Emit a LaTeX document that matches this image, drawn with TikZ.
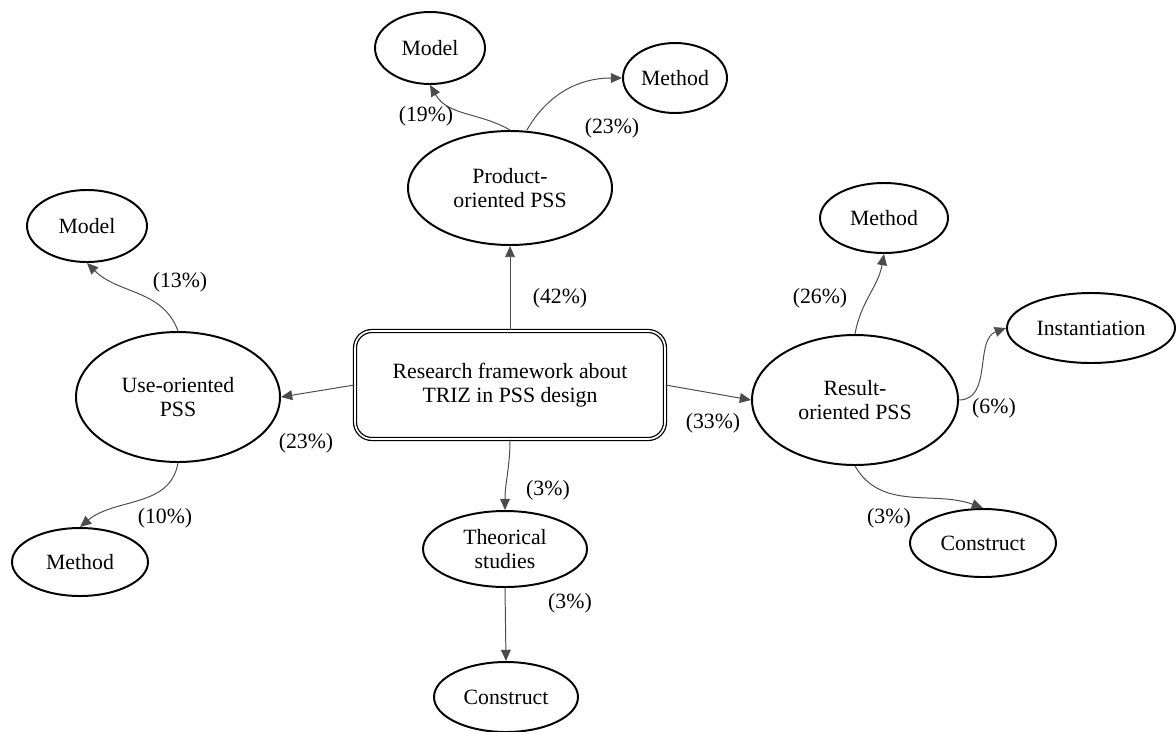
\documentclass[tikz,border=0pt]{standalone}
\usepackage{fontspec}
\setmainfont{Liberation Serif}
\usetikzlibrary{shapes.geometric,arrows.meta}
\begin{document}
\begin{tikzpicture}[x=0.025cm,y=-0.025cm,
  every node/.style={font=\fontsize{15.5}{17}\selectfont},
  oval/.style={ellipse,draw=black,line width=1.4pt,inner sep=0pt,align=center},
  link/.style={draw=black!70,line width=0.7pt,-{Triangle[length=8pt,width=7pt]}},
  pct/.style={inner sep=1pt}]
\useasboundingbox (0,0) rectangle (1176,731);

% central box
\node[draw=black,double=white,double distance=1.2pt,line width=0.9pt,rounded corners=12pt,
      minimum width=310*0.025cm,minimum height=108*0.025cm,align=center]
  (core) at (510,385) {Research framework about\\TRIZ in PSS design};

% first-level ellipses
\node[oval,minimum width=204*0.025cm,minimum height=114*0.025cm] (prod) at (510,188) {Product-\\oriented PSS};
\node[oval,minimum width=204*0.025cm,minimum height=130*0.025cm] (use) at (178,397) {Use-oriented\\PSS};
\node[oval,minimum width=206*0.025cm,minimum height=130*0.025cm] (res) at (855,400) {Result-\\oriented PSS};
\node[oval,minimum width=164*0.025cm,minimum height=76*0.025cm] (theo) at (505,549) {Theorical\\studies};

% second-level ellipses
\node[oval,minimum width=110*0.025cm,minimum height=72*0.025cm] (pmodel) at (430,48) {Model};
\node[oval,minimum width=104*0.025cm,minimum height=70*0.025cm] (pmethod) at (675,78) {Method};
\node[oval,minimum width=120*0.025cm,minimum height=72*0.025cm] (umodel) at (87,226) {Model};
\node[oval,minimum width=136*0.025cm,minimum height=68*0.025cm] (umethod) at (80,562) {Method};
\node[oval,minimum width=128*0.025cm,minimum height=70*0.025cm] (rmethod) at (884,218) {Method};
\node[oval,minimum width=168*0.025cm,minimum height=70*0.025cm] (rinst) at (1091,328) {Instantiation};
\node[oval,minimum width=146*0.025cm,minimum height=68*0.025cm] (rcons) at (983,543) {Construct};
\node[oval,minimum width=144*0.025cm,minimum height=70*0.025cm] (tcons) at (506,697) {Construct};

% connectors from the central box
\draw[link] (core.north) -- (prod.south);
\draw[link] (core.west) -- (use.east);
\draw[link] (core.east) -- (res.west);
\draw[link] (core.south) to[out=-90,in=90] (theo.north);

% connectors to the second level
\draw[link] (prod.north) to[out=150,in=-60] (pmodel.south);
\draw[link] ([xshift=12pt]prod.north) to[out=60,in=180] (pmethod.west);
\draw[link] (use.north) to[out=110,in=-45] (umodel.south);
\draw[link] (use.south) to[out=-100,in=40] (umethod.north);
\draw[link] (res.north) to[out=80,in=-100] (rmethod.south);
\draw[link] (res.east) to[out=0,in=200] (rinst.west);
\draw[link] (res.south) to[out=-60,in=160] (rcons.north);
\draw[link] (theo.south) -- (tcons.north);

% shares
\node[pct] (l1) at (560,298) {(42\%)};
\node[pct] (l2) at (306,443) {(23\%)};
\node[pct] (l3) at (713,423) {(33\%)};
\node[pct] (l4) at (548,490) {(3\%)};
\node[pct] (l5) at (426,116) {(19\%)};
\node[pct] (l6) at (612,128) {(23\%)};
\node[pct] (l7) at (180,282) {(13\%)};
\node[pct] (l8) at (165,518) {(10\%)};
\node[pct] (l9) at (820,298) {(26\%)};
\node[pct] (l10) at (994,408) {(6\%)};
\node[pct] (l11) at (889,518) {(3\%)};
\node[pct] (l12) at (570,603) {(3\%)};
\end{tikzpicture}
\end{document}
